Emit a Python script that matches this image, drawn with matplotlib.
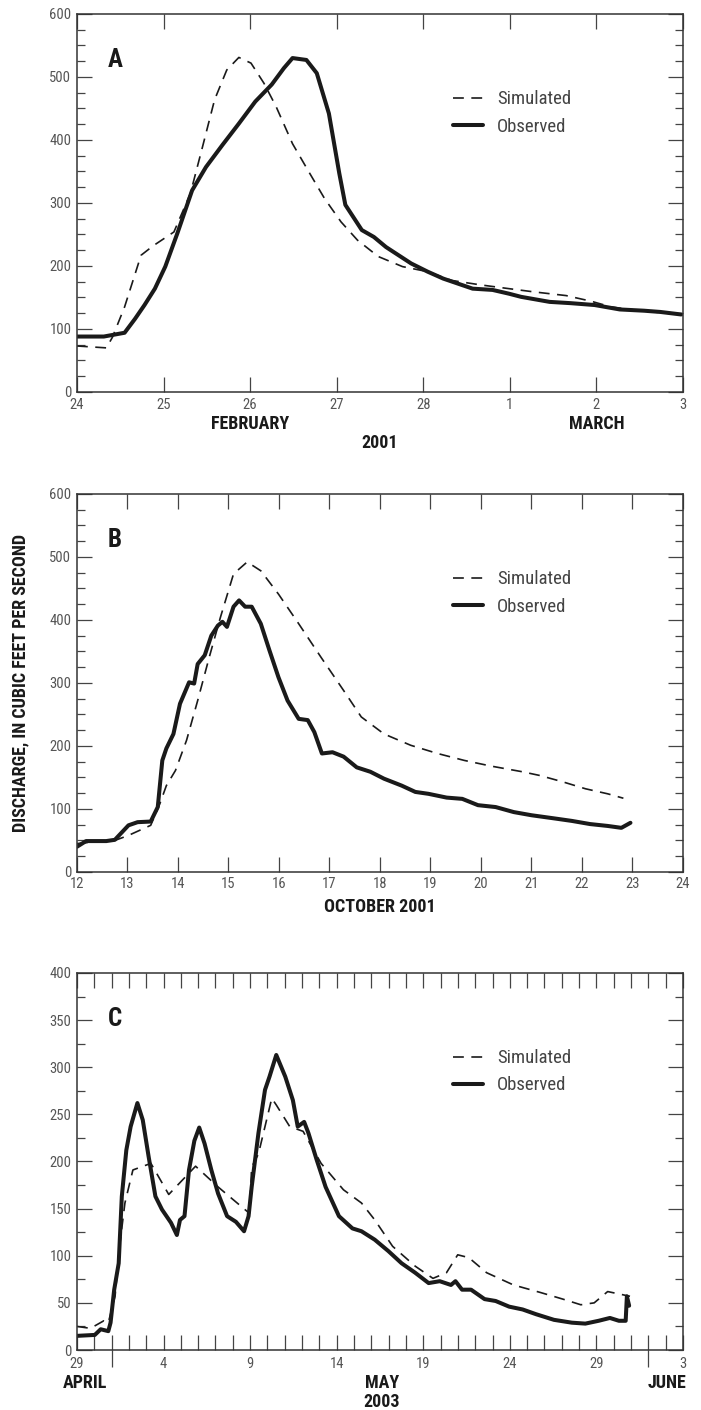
import matplotlib.pyplot as plt
from matplotlib.ticker import MultipleLocator, FixedLocator

plt.rcParams['font.family'] = ['Roboto Condensed', 'DejaVu Sans']
plt.rcParams['font.stretch'] = 'condensed'

# ---- Panel A: February 24 - March 3, 2001 (days since Feb 24, 00:00)
a_obs_days = [0, 0.31, 0.55, 0.67, 0.78, 0.90, 1.02, 1.16, 1.33, 1.49, 1.68, 1.87, 2.06,
              2.25, 2.39, 2.49, 2.65, 2.77, 2.91, 3.03, 3.10, 3.29, 3.43, 3.57, 3.86,
              4.05, 4.23, 4.57, 4.80, 4.99, 5.13, 5.46, 5.70, 5.98, 6.27, 6.55, 6.74, 6.98]
a_obs_q = [88, 88, 94, 116, 138, 164, 199, 252, 320, 357, 392, 426, 461,
           488, 514, 530, 527, 506, 442, 347, 297, 257, 246, 230, 204,
           191, 180, 164, 162, 156, 151, 143, 141, 138, 131, 129, 127, 123]
a_sim_days = [0, 0.34, 0.41, 0.55, 0.74, 0.88, 1.12, 1.31, 1.45, 1.59, 1.73, 1.87, 2.01,
              2.16, 2.30, 2.49, 2.68, 2.86, 3.05, 3.24, 3.48, 3.76, 4.05, 4.33, 4.66,
              4.99, 5.27, 5.65, 5.94, 6.17, 6.50, 6.98]
a_sim_q = [73, 70, 87, 135, 217, 232, 254, 315, 389, 464, 511, 531, 522,
           490, 453, 394, 349, 307, 270, 241, 215, 199, 191, 177, 170,
           164, 159, 153, 144, 135, 129, 123]
a_ticks = [0, 1, 2, 3, 4, 5, 6, 7]
a_tick_labels = ['24', '25', '26', '27', '28', '1', '2', '3']

# ---- Panel B: October 2001 (day of month)
b_obs_days = [12.0, 12.18, 12.58, 12.75, 13.02, 13.20, 13.46, 13.60, 13.69, 13.77, 13.91,
              14.04, 14.22, 14.32, 14.39, 14.53, 14.66, 14.79, 14.88, 14.97, 15.10, 15.21,
              15.33, 15.46, 15.64, 15.81, 15.99, 16.17, 16.39, 16.57, 16.70, 16.85, 17.06,
              17.28, 17.54, 17.81, 18.08, 18.43, 18.70, 18.96, 19.32, 19.63, 19.94, 20.29,
              20.65, 21.00, 21.45, 21.80, 22.16, 22.51, 22.78, 22.96]
b_obs_q = [40, 49, 49, 51, 74, 79, 80, 103, 177, 196, 219,
           267, 301, 299, 330, 344, 375, 391, 397, 389, 421, 431,
           421, 421, 394, 352, 309, 272, 243, 241, 222, 188, 190,
           183, 166, 159, 148, 137, 127, 124, 118, 116, 106, 103,
           95, 90, 85, 81, 76, 73, 70, 78]
b_sim_days = [12.0, 12.49, 12.75, 13.02, 13.46, 13.64, 13.77, 13.95, 14.17, 14.39, 14.62,
              14.84, 15.10, 15.37, 15.64, 15.99, 16.39, 16.83, 17.28, 17.63, 18.08, 18.61,
              19.14, 19.67, 20.20, 20.82, 21.17, 21.62, 22.07, 22.51, 22.82]
b_sim_q = [45, 49, 50, 58, 74, 108, 137, 161, 209, 272, 341,
           404, 473, 492, 478, 441, 394, 341, 288, 246, 219, 201,
           188, 177, 168, 159, 153, 143, 132, 124, 117]

# ---- Panel C: April 29 - June 3, 2003 (days since Apr 29, 00:00)
c_obs_days = [0, 1.03, 1.37, 1.81, 1.94, 2.15, 2.41, 2.59, 2.85, 3.10, 3.49, 3.80, 4.14,
              4.53, 4.91, 5.43, 5.77, 5.95, 6.21, 6.47, 6.78, 7.06, 7.37, 7.76, 8.15,
              8.67, 9.18, 9.65, 9.91, 10.09, 10.48, 10.86, 11.12, 11.51, 12.03, 12.47,
              12.75, 13.12, 13.37, 13.84, 14.36, 15.13, 15.91, 16.43, 17.20, 17.98,
              18.75, 19.53, 20.31, 20.95, 21.60, 21.86, 22.24, 22.76, 23.54, 24.18,
              24.96, 25.74, 26.51, 27.55, 28.58, 29.36, 30.13, 30.78, 31.30, 31.69,
              31.76, 31.89]
c_obs_q = [15, 16, 22, 20, 29, 64, 92, 163, 212, 237, 262, 244, 205,
           163, 149, 135, 122, 138, 142, 191, 222, 236, 219, 191, 166,
           142, 136, 126, 142, 173, 230, 276, 290, 313, 290, 265,
           237, 242, 230, 202, 173, 142, 129, 126, 117, 105,
           92, 82, 71, 73, 69, 73, 64, 64, 54, 52,
           46, 43, 38, 32, 29, 28, 31, 34, 31, 31,
           57, 47]
c_sim_days = [0, 0.78, 1.55, 1.81, 2.20, 2.46, 2.77, 3.23, 4.27, 5.30, 6.85, 8.15, 9.96,
              10.09, 10.48, 11.25, 11.51, 12.29, 13.06, 14.10, 15.39, 16.43, 17.20,
              18.23, 19.53, 20.56, 21.34, 21.99, 22.63, 23.66, 25.21, 26.77, 28.06,
              29.10, 29.87, 30.65, 31.94]
c_sim_q = [25, 23, 31, 29, 57, 110, 156, 191, 198, 165, 195, 173, 145,
           194, 208, 267, 260, 237, 232, 198, 170, 156, 138,
           110, 89, 76, 82, 101, 98, 82, 69, 61, 54,
           48, 50, 62, 57]
c_label_ticks = [0, 5, 10, 15, 20, 25, 30, 35]
c_tick_labels = ['29', '4', '9', '14', '19', '24', '29', '3']
c_month_starts = [2, 33]

INK = '#1a1a1a'
AX_COLOR = '#333333'
LABEL_GRAY = '#555555'


def draw_series(ax, sd, sq, od, oq, letter):
    ax.plot(sd, sq, color=INK, lw=1.2, dashes=(6.5, 4.5), label='Simulated')
    ax.plot(od, oq, color=INK, lw=2.9, solid_joinstyle='round',
            solid_capstyle='round', label='Observed')
    ax.legend(loc='center left', bbox_to_anchor=(0.62, 0.738), frameon=False,
              fontsize=13.5, handlelength=1.6, handletextpad=0.75,
              labelspacing=0.5, borderpad=0, borderaxespad=0, labelcolor='#444444')
    ax.text(0.051, 0.91, letter, transform=ax.transAxes, ha='left', va='top',
            fontsize=18, fontweight='bold', color=INK)


def style_axes(ax, ymajor):
    for s in ax.spines.values():
        s.set_linewidth(1.1)
        s.set_color(AX_COLOR)
    ax.yaxis.set_major_locator(MultipleLocator(ymajor))
    ax.yaxis.set_minor_locator(MultipleLocator(25))
    ax.tick_params(which='both', direction='in', top=True, right=True,
                   colors='#444444', labelcolor=LABEL_GRAY, labelsize=10.5, width=0.9)
    ax.tick_params(axis='y', which='major', length=10.5, pad=4)
    ax.tick_params(axis='y', which='minor', length=6)
    ax.tick_params(axis='x', which='both', length=10.5, pad=4)


fig = plt.figure(figsize=(7.01, 14.10), dpi=100)
left, width, height = 0.1098, 0.8645, 0.2681

# Panel A
axA = fig.add_axes([left, 0.7220, width, height])
draw_series(axA, a_sim_days, a_sim_q, a_obs_days, a_obs_q, 'A')
axA.set_xlim(0, 7)
axA.set_ylim(0, 600)
axA.set_xticks(a_ticks, a_tick_labels)
style_axes(axA, 100)
xa = axA.get_xaxis_transform()
axA.text(2, -0.085, 'FEBRUARY', transform=xa, ha='center', va='center',
         fontsize=13, fontweight='bold', color=INK)
axA.text(6, -0.085, 'MARCH', transform=xa, ha='center', va='center',
         fontsize=13, fontweight='bold', color=INK)
axA.text(0.5, -0.135, '2001', transform=axA.transAxes, ha='center', va='center',
         fontsize=13, fontweight='bold', color=INK)

# Panel B
axB = fig.add_axes([left, 0.3816, width, height])
draw_series(axB, b_sim_days, b_sim_q, b_obs_days, b_obs_q, 'B')
axB.set_xlim(12, 24)
axB.set_ylim(0, 600)
axB.xaxis.set_major_locator(MultipleLocator(1))
style_axes(axB, 100)
axB.text(0.5, -0.093, 'OCTOBER 2001', transform=axB.transAxes, ha='center',
         va='center', fontsize=13, fontweight='bold', color=INK)

# Panel C
axC = fig.add_axes([left, 0.04255, width, 0.2674])
draw_series(axC, c_sim_days, c_sim_q, c_obs_days, c_obs_q, 'C')
axC.set_xlim(0, 35)
axC.set_ylim(0, 400)
axC.set_xticks(c_label_ticks, c_tick_labels)
axC.xaxis.set_minor_locator(FixedLocator(range(0, 36)))
style_axes(axC, 50)
axC.tick_params(axis='x', which='major', pad=5)
sec = axC.secondary_xaxis('bottom')
sec.set_xticks(c_month_starts, ['', ''])
sec.tick_params(direction='out', length=12.5, width=0.9, colors='#444444')
sec.spines['bottom'].set_visible(False)
xc = axC.get_xaxis_transform()
for xpos, name in [(0.46, 'APRIL'), (17.6, 'MAY'), (34.1, 'JUNE')]:
    axC.text(xpos, -0.0875, name, transform=xc, ha='center', va='center',
             fontsize=13, fontweight='bold', color=INK)
axC.text(17.6, -0.137, '2003', transform=xc, ha='center', va='center',
         fontsize=13, fontweight='bold', color=INK)

fig.text(20 / 701, 1 - 683 / 1410, 'DISCHARGE, IN CUBIC FEET PER SECOND',
         rotation=90, ha='center', va='center', fontsize=13, fontweight='bold',
         color=INK)

fig.savefig('out.png', dpi=100)
